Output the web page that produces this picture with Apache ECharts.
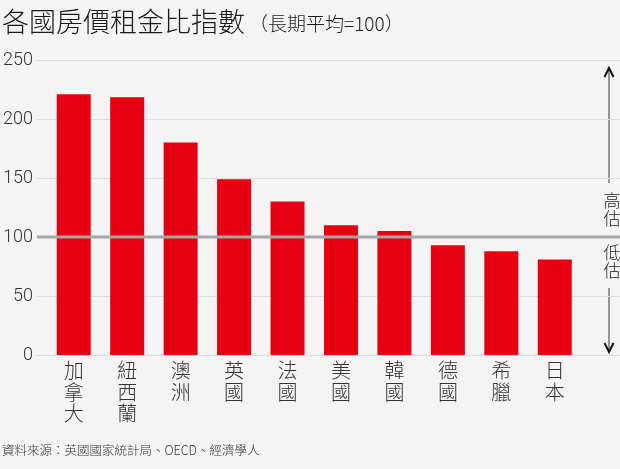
<!DOCTYPE html>
<html>
<head>
<meta charset="utf-8">
<script src="https://cdn.jsdelivr.net/npm/echarts@6/dist/echarts.min.js"></script>
<style>
html, body { margin: 0; padding: 0; background: #f4f4f4; }
#container { width: 620px; height: 469px; }
</style>
</head>
<body>
<div id="container"></div>
<script>
// data
var countries = ['加拿大', '紐西蘭', '澳洲', '英國', '法國', '美國', '韓國', '德國', '希臘', '日本'];
var ratioIndex = [221, 218.5, 180, 149, 130, 110, 105, 93, 88, 81];
var longRunAvg = [100, 100];
var yMin = 0, yMax = 250, yStep = 50;

var cjk = '"Noto Sans CJK TC", "Noto Sans CJK SC", sans-serif';
var num = '"Liberation Sans Narrow", "Roboto", sans-serif';

var dom = document.getElementById('container');
var myChart = echarts.init(dom);

var option = {
    backgroundColor: '#f4f4f4',
    animation: false,
    title: [{
        text: '{a|各國房價租金比指數}{b|（長期平均=100）}',
        left: 2,
        top: 8,
        padding: 0,
        textStyle: {
            rich: {
                a: { fontSize: 27, color: '#1a1a1a', fontFamily: cjk, fontWeight: 300 },
                b: { fontSize: 19, color: '#1a1a1a', fontFamily: cjk, fontWeight: 300, padding: [5, 0, 0, 4] }
            }
        }
    }, {
        text: '資料來源：英國國家統計局、OECD、經濟學人',
        left: 2,
        top: 444,
        padding: 0,
        textStyle: { fontSize: 12.5, color: '#333', fontFamily: cjk, fontWeight: 300 }
    }],
    grid: [
        { left: 34, right: 0, top: 60, bottom: 114 },
        { left: 47, right: 38.5, top: 60, bottom: 114 }
    ],
    xAxis: [{
        gridIndex: 0,
        type: 'value',
        min: 0,
        max: 1,
        show: false
    }, {
        gridIndex: 1,
        type: 'category',
        data: countries,
        axisLine: { show: false },
        axisTick: { show: false },
        axisLabel: {
            margin: 5,
            fontSize: 20,
            lineHeight: 21.5,
            color: '#333',
            fontFamily: cjk,
            fontWeight: 300,
            verticalAlign: 'top',
            formatter: function (v) { return v.split('').join('\n'); }
        }
    }],
    yAxis: [{
        gridIndex: 0,
        type: 'value',
        min: yMin,
        max: yMax,
        interval: yStep,
        axisLine: { show: false },
        axisTick: { show: false },
        axisLabel: { margin: 4, fontSize: 18, color: '#333', fontFamily: num, fontWeight: 300 },
        splitLine: { lineStyle: { color: '#dcdcdc', width: 1 } }
    }, {
        gridIndex: 1,
        type: 'value',
        min: yMin,
        max: yMax,
        interval: yStep,
        show: false,
        splitLine: { show: false }
    }],
    series: [{
        name: '房價租金比指數',
        type: 'bar',
        xAxisIndex: 1,
        yAxisIndex: 1,
        barWidth: 34,
        itemStyle: { color: '#e60012' },
        data: ratioIndex,
        z: 2
    }, {
        name: '長期平均',
        type: 'line',
        xAxisIndex: 0,
        yAxisIndex: 0,
        symbol: 'none',
        lineStyle: { color: '#a6a6a6', width: 3 },
        data: [[0, longRunAvg[0]], [1, longRunAvg[1]]],
        z: 5
    }],
    graphic: [
        { type: 'line', shape: { x1: 609, y1: 69, x2: 609, y2: 183 }, style: { stroke: '#777', lineWidth: 1.5 } },
        { type: 'polyline', shape: { points: [[604.5, 77], [609, 68], [613.5, 77]] }, style: { stroke: '#111', lineWidth: 2, fill: null } },
        { type: 'text', x: 612, y: 192, style: { text: '高\n估', fontSize: 17, lineHeight: 18, fill: '#222', align: 'center', fontFamily: cjk, fontWeight: 300 } },
        { type: 'text', x: 612, y: 244, style: { text: '低\n估', fontSize: 17, lineHeight: 18, fill: '#222', align: 'center', fontFamily: cjk, fontWeight: 300 } },
        { type: 'line', shape: { x1: 609, y1: 288, x2: 609, y2: 351 }, style: { stroke: '#777', lineWidth: 1.5 } },
        { type: 'polyline', shape: { points: [[604.5, 343], [609, 352], [613.5, 343]] }, style: { stroke: '#111', lineWidth: 2, fill: null } }
    ]
};

myChart.setOption(option);
</script>
</body>
</html>
